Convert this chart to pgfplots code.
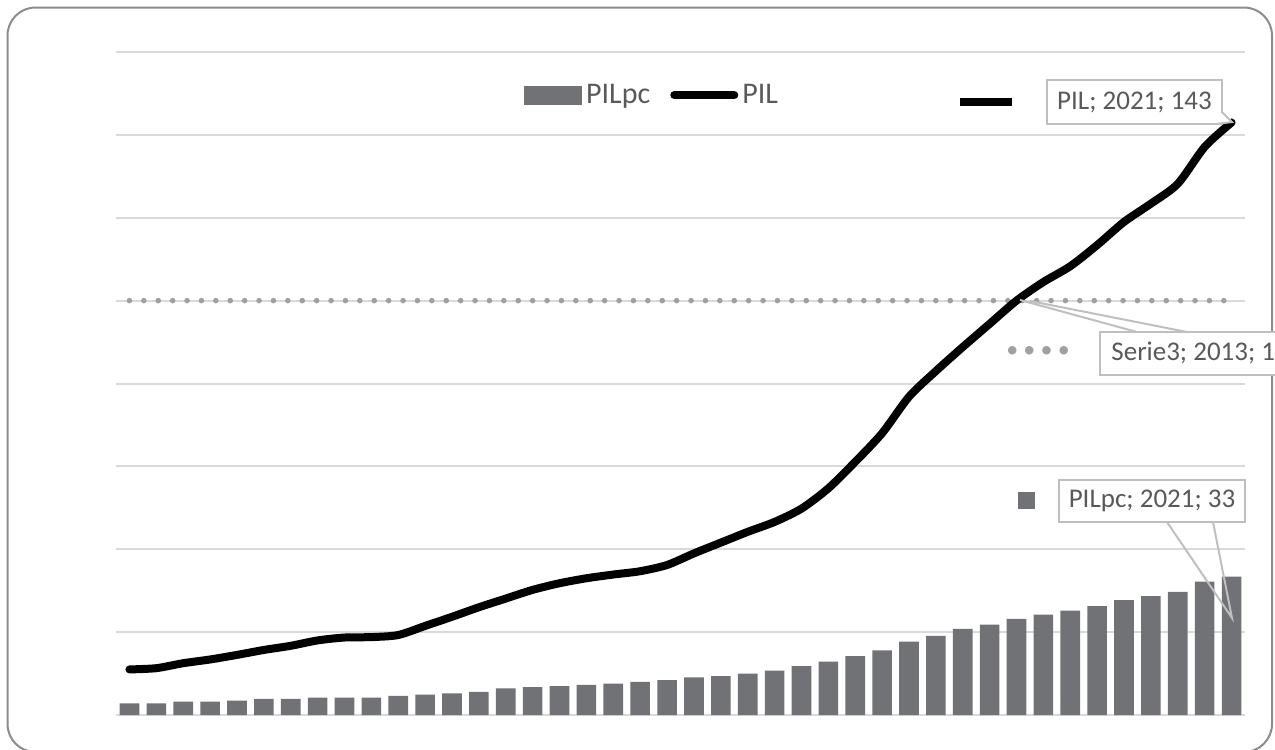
\documentclass[border=0pt]{standalone}
\usepackage{pgfplots}
\pgfplotsset{compat=1.18}
\usepackage{pgfplotstable}
\usepackage{fontspec}
\setmainfont{Carlito}
\definecolor{barc}{RGB}{112,114,118}
\definecolor{gridc}{RGB}{217,217,217}
\definecolor{txtc}{RGB}{89,89,89}
\definecolor{boxc}{RGB}{191,191,191}
\definecolor{dotc}{RGB}{160,160,160}
\definecolor{framec}{RGB}{140,140,140}

\pgfplotstableread{
year pilpc pil s3
1980 2.8 11.0 100
1981 2.8 11.3 100
1982 3.2 12.5 100
1983 3.2 13.4 100
1984 3.5 14.5 100
1985 3.9 15.7 100
1986 3.9 16.7 100
1987 4.2 18.0 100
1988 4.2 18.7 100
1989 4.2 18.8 100
1990 4.6 19.3 100
1991 4.9 21.5 100
1992 5.2 23.7 100
1993 5.6 26.0 100
1994 6.4 28.1 100
1995 6.7 30.2 100
1996 7.0 31.8 100
1997 7.3 33.0 100
1998 7.6 33.9 100
1999 8.0 34.7 100
2000 8.4 36.2 100
2001 9.1 39.0 100
2002 9.4 41.6 100
2003 10.0 44.2 100
2004 10.7 46.6 100
2005 11.8 49.8 100
2006 12.9 54.7 100
2007 14.2 61.1 100
2008 15.6 68.0 100
2009 17.7 76.8 100
2010 19.1 83.0 100
2011 20.8 88.8 100
2012 21.8 94.4 100
2013 23.2 100.0 100
2014 24.2 104.5 100
2015 25.2 108.3 100
2016 26.3 113.4 100
2017 27.7 119.0 100
2018 28.7 123.4 100
2019 29.7 128.2 100
2020 32.2 137.1 100
2021 33.4 143.0 100
}\datatable

\begin{document}
\begin{tikzpicture}
\useasboundingbox (0,0) rectangle (637.5pt,-375pt);
\clip (0,0) rectangle (637.5pt,-375pt);
\draw[framec, line width=1pt, rounded corners=14pt] (3.75pt,-3.75pt) rectangle (636pt,-376pt);
\begin{axis}[
  at={(58pt,-357.5pt)}, anchor=south west,
  scale only axis, width=564.5pt, height=331.5pt,
  xmin=1979.5, xmax=2021.5, ymin=0, ymax=160,
  axis line style={draw=none},
  xtick=\empty,
  ytick={0,20,...,160},
  yticklabel={\mbox{}},
  major tick length=0pt,
  ymajorgrids,
  grid style={gridc, line width=1pt},
  clip=false,
  legend style={at={(0.4757,0.935)}, anchor=center, draw=none, fill=none,
    font=\fontsize{15}{17}\selectfont, text=txtc, legend columns=2,
    /tikz/every even column/.append style={column sep=8pt},
    inner sep=0pt},
  legend cell align=left,
]
\addplot[ybar, bar width=0.73, fill=barc, draw=none,
  legend image code/.code={\fill[barc] (0pt,-4.75pt) rectangle (29pt,4.75pt);}]
  table[x=year, y=pilpc] {\datatable};
\addlegendentry{PILpc}
\addplot[dotc, line width=2.8pt, line cap=round, dash pattern=on 0pt off 7.2pt, forget plot]
  table[x=year, y=s3] {\datatable};
\addplot[black, line width=4pt, line cap=round, smooth, tension=0.45,
  legend image code/.code={\draw[black,line width=4pt,line cap=round] (0pt,0pt) -- (30pt,0pt);}]
  table[x=year, y=pil] {\datatable};
\addlegendentry{PIL}
\end{axis}
\begin{scope}[x=0.5pt, y=-0.5pt, font=\fontsize{13.5}{15}\selectfont]
  % PIL label
  \draw[boxc, line width=1pt, fill=white] (1047,80) rectangle (1222,124);
  \filldraw[boxc, fill=white, line width=1pt] (1216,124) -- (1232,122) -- (1222,112);
  \node[text=txtc] at (1134.5,102) {PIL; 2021; 143};
  \node at (986,102) {\textcolor{black}{\rule[-2pt]{26pt}{4pt}}};
  % Serie3 label (cut by the right edge, as in the original)
  \draw[boxc, line width=1pt] (1020,300) -- (1137,332);
  \draw[boxc, line width=1pt] (1030,301) -- (1187,332);
  \draw[boxc, line width=1pt, fill=white] (1100,332) rectangle (1300,375);
  \node[text=txtc, anchor=west, inner sep=0pt] at (1111,353) {Serie3; 2013; 1};
  \node at (1038,352) {\textcolor{dotc}{\fontsize{12}{12}\selectfont \textbullet\hspace{2.6pt}\textbullet\hspace{2.6pt}\textbullet\hspace{2.6pt}\textbullet}};
  % PILpc label
  \draw[boxc, line width=1pt] (1167,522) -- (1232,618) -- (1213,522);
  \draw[boxc, line width=1pt, fill=white] (1059,480) rectangle (1245,522);
  \node[text=txtc] at (1152,501) {PILpc; 2021; 33};
  \node at (1026.5,500) {\textcolor{barc}{\rule[-4.5pt]{8.5pt}{8.5pt}}};
\end{scope}
\end{tikzpicture}
\end{document}
